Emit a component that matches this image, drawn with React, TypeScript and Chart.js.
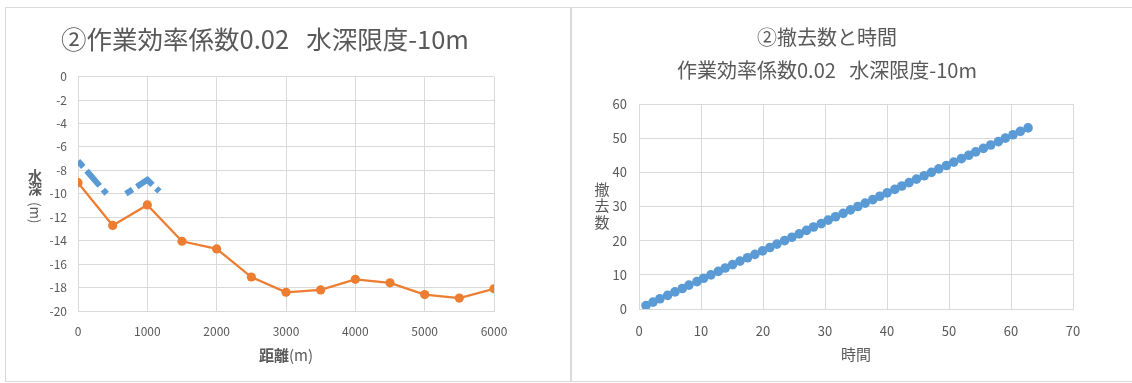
import React, { useEffect, useRef } from 'react';
import { Chart, registerables } from 'chart.js';

Chart.register(...registerables);

const FONT = "'Noto Sans CJK JP', 'Noto Sans', sans-serif";
const TEXT = '#595959';
const GRID = '#d9d9d9';
const BLUE = '#5B9BD5';
const ORANGE = '#ED7D31';

// ---- Left chart data ----
const leftTitle = '②作業効率係数0.02   水深限度-10m';
const depthDistance = [0, 500, 1000, 1500, 2000, 2500, 3000, 3500, 4000, 4500, 5000, 5500, 6000];
const seabedDepth = [-9.05, -12.7, -10.95, -14.05, -14.7, -17.1, -18.4, -18.2, -17.3, -17.6, -18.6, -18.9, -18.1];
const limitDistance = [0, 413, 550, 690, 1000, 1175];
const limitDepth: (number | null)[] = [-7.2, -10, null, -10, -8.8, -9.8];
const distanceRange = [0, 6000, 1000];
const depthRange = [-20, 0, 2];

// ---- Right chart data ----
const rightTitle = '②撤去数と時間';
const rightSubtitle = '作業効率係数0.02   水深限度-10m';
const removalTime = [
  1.13, 2.26, 3.38, 4.62, 5.8, 6.98, 8.06, 9.35, 10.42, 11.6,
  12.79, 13.91, 15.1, 16.28, 17.51, 18.7, 19.93, 21.11, 22.24, 23.48,
  24.66, 25.84, 27.02, 28.15, 29.39, 30.51, 31.7, 32.93, 34.11, 35.3,
  36.48, 37.71, 38.84, 40.02, 41.26, 42.39, 43.57, 44.75, 45.99, 47.17,
  48.35, 49.59, 50.77, 52.0, 53.19, 54.31, 55.55, 56.73, 57.97, 59.09,
  60.33, 61.51, 62.75,
];
const removalCount = [
  1, 2, 3, 4, 5, 6, 7, 8, 9, 10,
  11, 12, 13, 14, 15, 16, 17, 18, 19, 20,
  21, 22, 23, 24, 25, 26, 27, 28, 29, 30,
  31, 32, 33, 34, 35, 36, 37, 38, 39, 40,
  41, 42, 43, 44, 45, 46, 47, 48, 49, 50,
  51, 52, 53,
];
const timeRange = [0, 70, 10];
const countRange = [0, 60, 10];

type Piece = { text: string; bold?: boolean };
type VItem = { text: string; bold?: boolean; rotate?: boolean; size: number; dy: number };

function axisTitlePlugin(
  xPieces: Piece[],
  xSize: number,
  xOffset: number,
  yItems: VItem[],
  yX: number,
  yCenterOffset: number
) {
  return {
    id: 'axisTitles',
    afterDraw(chart: any) {
      const { ctx, chartArea } = chart;
      ctx.save();
      ctx.fillStyle = TEXT;
      ctx.textBaseline = 'middle';
      // x title
      const fonts = xPieces.map((p) => `${p.bold ? 'bold ' : ''}${xSize}px ${FONT}`);
      let total = 0;
      const widths = xPieces.map((p, i) => {
        ctx.font = fonts[i];
        const w = ctx.measureText(p.text).width;
        total += w;
        return w;
      });
      let x = (chartArea.left + chartArea.right) / 2 - total / 2;
      const y = chartArea.bottom + xOffset;
      ctx.textAlign = 'left';
      xPieces.forEach((p, i) => {
        ctx.font = fonts[i];
        ctx.fillText(p.text, x, y);
        x += widths[i];
      });
      // y title (stacked)
      const cy = (chartArea.top + chartArea.bottom) / 2 + yCenterOffset;
      ctx.textAlign = 'center';
      yItems.forEach((it) => {
        ctx.font = `${it.bold ? 'bold ' : ''}${it.size}px ${FONT}`;
        if (it.rotate) {
          ctx.save();
          ctx.translate(yX, cy + it.dy);
          ctx.rotate(Math.PI / 2);
          ctx.fillText(it.text, 0, 0);
          ctx.restore();
        } else {
          ctx.fillText(it.text, yX, cy + it.dy);
        }
      });
      ctx.restore();
    },
  };
}

function makeScale(range: number[], size: number, padding: number, fit: (s: any) => void) {
  return {
    type: 'linear',
    min: range[0],
    max: range[1],
    ticks: {
      stepSize: range[2],
      color: TEXT,
      padding,
      font: { family: FONT, size },
      callback: (v: number) => String(v),
    },
    grid: { color: GRID, lineWidth: 1, drawTicks: false },
    border: { color: GRID, width: 1 },
    afterFit: fit,
  };
}

function leftConfig(): any {
  return {
    type: 'scatter',
    data: {
      datasets: [
        {
          label: '水深限度',
          data: limitDistance.map((x, i) => ({ x, y: limitDepth[i] })),
          showLine: true,
          spanGaps: false,
          borderColor: BLUE,
          borderWidth: 6,
          borderDash: [8, 5, 20, 5],
          pointRadius: 0,
          pointHoverRadius: 0,
        },
        {
          label: '水深',
          data: depthDistance.map((x, i) => ({ x, y: seabedDepth[i] })),
          showLine: true,
          borderColor: ORANGE,
          backgroundColor: ORANGE,
          borderWidth: 2.25,
          pointRadius: 4.6,
          pointBorderWidth: 0,
        },
      ],
    },
    options: {
      animation: false,
      responsive: false,
      devicePixelRatio: 1,
      layout: { padding: { left: 30, right: 75, top: 0, bottom: 0 } },
      plugins: {
        legend: { display: false },
        tooltip: { enabled: false },
        title: {
          display: true,
          text: leftTitle,
          color: TEXT,
          font: { family: FONT, size: 25.5, weight: 'normal' },
          padding: { top: 16, bottom: 22 },
        },
      },
      scales: {
        x: makeScale(distanceRange, 12, 13, (s: any) => { s.height = 70; }),
        y: makeScale(depthRange, 12, 11, (s: any) => { s.width = 42; }),
      },
    },
    plugins: [
      axisTitlePlugin(
        [{ text: '距離', bold: true }, { text: '(m)' }],
        15,
        44,
        [
          { text: '水', bold: true, size: 14, dy: -18 },
          { text: '深', bold: true, size: 14, dy: -5 },
          { text: '(m)', rotate: true, size: 13.5, dy: 19 },
        ],
        29,
        0
      ),
    ],
  };
}

function rightConfig(): any {
  return {
    type: 'scatter',
    data: {
      datasets: [
        {
          label: '撤去数',
          data: removalTime.map((x, i) => ({ x, y: removalCount[i] })),
          backgroundColor: BLUE,
          borderWidth: 0,
          pointRadius: 4.8,
        },
      ],
    },
    options: {
      animation: false,
      responsive: false,
      devicePixelRatio: 1,
      layout: { padding: { left: 9, right: 58, top: 0, bottom: 0 } },
      plugins: {
        legend: { display: false },
        tooltip: { enabled: false },
        title: {
          display: true,
          text: rightTitle,
          color: TEXT,
          font: { family: FONT, size: 20, weight: 'normal' },
          padding: { top: 17, bottom: 0 },
        },
        subtitle: {
          display: true,
          text: rightSubtitle,
          color: TEXT,
          font: { family: FONT, size: 20, weight: 'normal' },
          padding: { top: 9, bottom: 22 },
        },
      },
      scales: {
        x: makeScale(timeRange, 13, 14, (s: any) => { s.height = 72; }),
        y: makeScale(countRange, 13, 12, (s: any) => { s.width = 58; }),
      },
    },
    plugins: [
      axisTitlePlugin(
        [{ text: '時間' }],
        15,
        45,
        [
          { text: '撤', size: 15, dy: -16.5 },
          { text: '去', size: 15, dy: 0 },
          { text: '数', size: 15, dy: 16.5 },
        ],
        30,
        -1
      ),
    ],
  };
}

function ChartCanvas({ build, width, height }: { build: () => any; width: number; height: number }) {
  const ref = useRef<HTMLCanvasElement>(null);
  useEffect(() => {
    const chart = new Chart(ref.current as HTMLCanvasElement, build());
    return () => chart.destroy();
  }, []);
  return <canvas ref={ref} width={width} height={height} style={{ display: 'block', width, height }} />;
}

export default function App() {
  return (
    <div style={{ position: 'fixed', left: 0, top: 0, width: 1132, height: 383, background: '#fff', overflow: 'hidden' }}>
      <div style={{ position: 'absolute', left: 5, top: 7, width: 566, height: 375, border: `1px solid ${GRID}`, boxSizing: 'border-box' }} />
      <div style={{ position: 'absolute', left: 571, top: 7, width: 575, height: 375, border: `1px solid ${GRID}`, boxSizing: 'border-box' }} />
      <div style={{ position: 'absolute', left: 6, top: 8 }}>
        <ChartCanvas build={leftConfig} width={563} height={373} />
      </div>
      <div style={{ position: 'absolute', left: 572, top: 8 }}>
        <ChartCanvas build={rightConfig} width={559} height={373} />
      </div>
    </div>
  );
}
